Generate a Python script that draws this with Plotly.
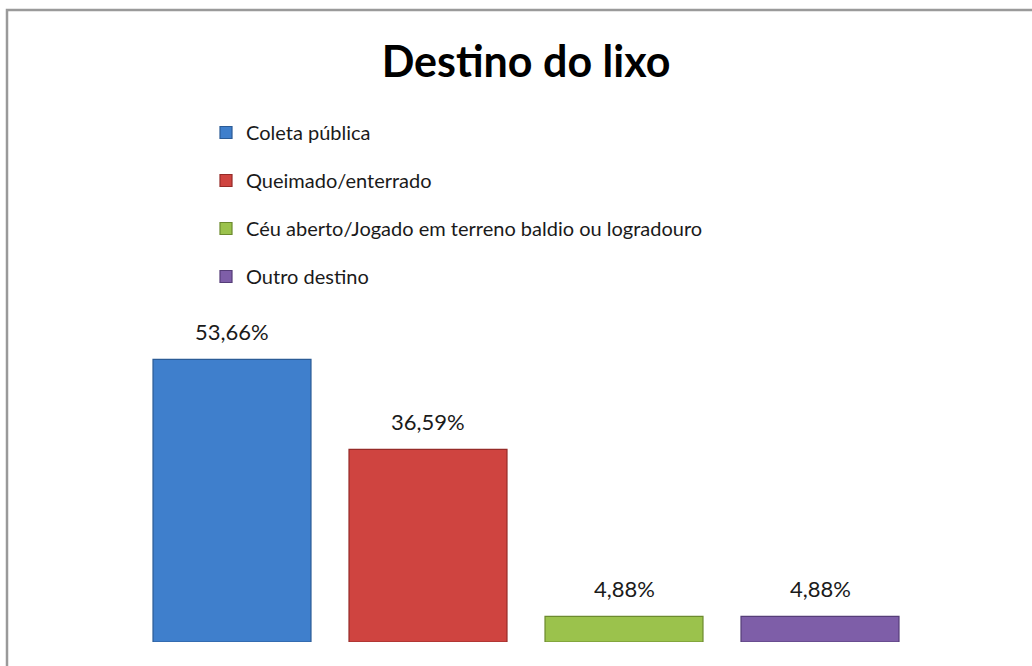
import plotly.graph_objects as go

categories = ["Coleta pública", "Queimado/enterrado",
              "Céu aberto/Jogado em terreno baldio ou logradouro", "Outro destino"]
values = [53.66, 36.59, 4.88, 4.88]
labels = ["53,66%", "36,59%", "4,88%", "4,88%"]
colors = ["#3F7FCC", "#CF4440", "#9BC24C", "#7E5EA8"]
edge_colors = ["#2B5B96", "#962B28", "#6C8A2E", "#553D78"]

FONT = "Lato"
W, H = 1032, 666
L, R, T, B = 134, 114, 326, 24
pw, ph = W - L - R, H - T - B

fig = go.Figure()
for i, (cat, v) in enumerate(zip(categories, values)):
    fig.add_trace(go.Bar(
        x=[i], y=[v], name=cat,
        marker=dict(color=colors[i], line=dict(color=edge_colors[i], width=1.2)),
        legendgroup=f"g{i}",
        hoverinfo="skip",
    ))

annotations = []
for i, (v, lab) in enumerate(zip(values, labels)):
    annotations.append(dict(
        x=i, y=v, xref="x", yref="y", text=lab, showarrow=False,
        yanchor="bottom", yshift=12,
        font=dict(family=FONT, size=22, color="#1a1a1a"),
    ))

def px_x(p):
    return (p - L) / pw

def px_y(p):
    return (H - B - p) / ph

fig.update_layout(
    width=W, height=H,
    margin=dict(l=L, r=R, t=T, b=B, pad=0),
    paper_bgcolor="white", plot_bgcolor="white",
    barmode="overlay", bargap=0.194,
    showlegend=True,
    title=dict(text="<b>Destino do lixo</b>", x=0.5, xref="paper", xanchor="center",
               y=(H - 62) / H, yref="container", yanchor="middle",
               font=dict(family=FONT, size=43, color="black")),
    legend=dict(x=px_x(206), y=px_y(113), xanchor="left", yanchor="top",
                orientation="v", traceorder="grouped", tracegroupgap=19,
                font=dict(family=FONT, size=20, color="#1a1a1a"),
                bgcolor="rgba(0,0,0,0)", itemclick=False, itemdoubleclick=False),
    xaxis=dict(range=[-0.5, 3.5], visible=False, fixedrange=True),
    yaxis=dict(range=[0, 60], visible=False, fixedrange=True),
    annotations=annotations,
    shapes=[dict(type="rect", xref="paper", yref="paper",
                 x0=px_x(7), x1=px_x(1045), y0=px_y(680), y1=px_y(10),
                 line=dict(color="#9a9a9a", width=2.5), fillcolor="rgba(0,0,0,0)",
                 layer="below")],
)

fig.write_html("out.html", config={"displayModeBar": False},
               post_script="document.body.style.margin='0';document.body.style.overflow='hidden';")
